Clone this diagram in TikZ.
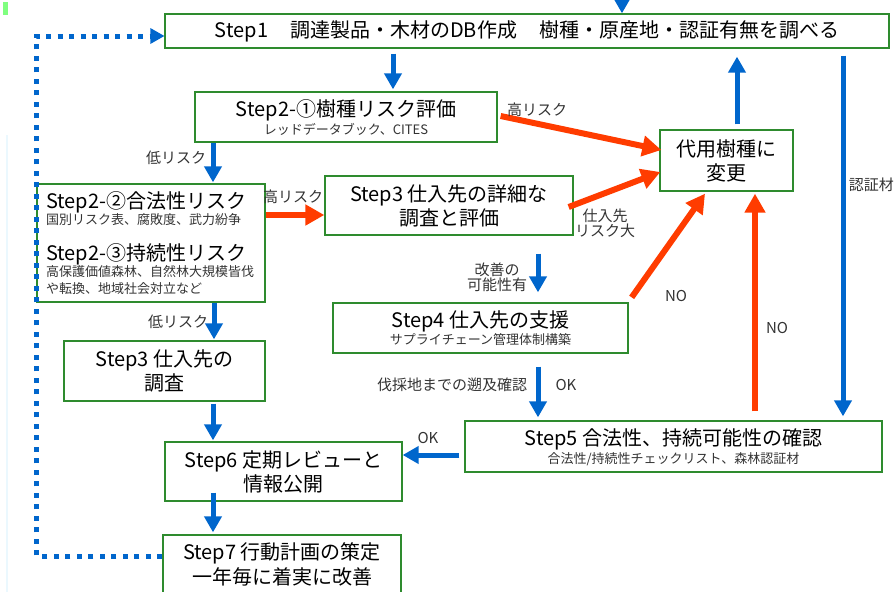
\documentclass[tikz,border=0pt]{standalone}
\usepackage{fontspec}
\setmainfont{Noto Sans CJK JP}
\usetikzlibrary{arrows.meta}
\definecolor{boxgreen}{HTML}{2E8B2E}
\definecolor{flowblue}{HTML}{0066CC}
\definecolor{flowred}{HTML}{FF3C00}
\definecolor{labgray}{HTML}{333333}
\begin{document}
\begin{tikzpicture}[x=1pt,y=-1pt,
  box/.style={draw=boxgreen, line width=1.3pt, fill=white, align=center, inner sep=0pt, text=black,
    font=\fontsize{20}{24}\selectfont},
  bigtext/.style={inner sep=0pt, text=black, font=\fontsize{20}{24}\selectfont},
  smalltext/.style={inner sep=0pt, text=labgray, font=\fontsize{13}{16}\selectfont},
  lab/.style={inner sep=0pt, text=labgray, align=center, font=\fontsize{15}{18}\selectfont},
  bluearr/.style={draw=flowblue, line width=5pt, -{Triangle[width=17pt,length=16pt]}},
  redarr/.style={draw=flowred, line width=6pt, -{Triangle[width=20pt,length=19pt]}},
  dotline/.style={draw=flowblue, line width=5pt, dash pattern=on 5pt off 6.5pt},
]
\useasboundingbox (0,0) rectangle (895,592);
% faint artefacts at the left edge
\fill[green!50!white] (3,2) rectangle (8,15);
\fill[cyan!8!white] (6,135) rectangle (8,592);

% boxes
\node[box, minimum width=724pt, minimum height=34pt] (s1) at (527,31)
  {Step1\hspace{1.1em}調達製品・木材のDB作成\hspace{1.1em}樹種・原産地・認証有無を調べる};
\node[box, minimum width=302pt, minimum height=50pt] (s21) at (346,117) {};
\node[bigtext] (s21a) at (346,110) {Step2-①樹種リスク評価};
\node[smalltext] (s21b) at (346,129) {レッドデータブック、CITES};

\node[box, minimum width=133pt, minimum height=61pt] (alt) at (726.5,160.5) {代用樹種に\\変更};

\node[box, minimum width=228pt, minimum height=118pt] (s22) at (151,243) {};
\node[bigtext, anchor=west] (s22a) at (46,202) {Step2-②合法性リスク};
\node[smalltext, anchor=west] (s22b) at (46,220) {国別リスク表、腐敗度、武力紛争};
\node[bigtext, anchor=west] (s22c) at (46,254) {Step2-③持続性リスク};
\node[smalltext, anchor=west] (s22d) at (46,272) {高保護価値森林、自然林大規模皆伐};
\node[smalltext, anchor=west] (s22e) at (46,289) {や転換、地域社会対立など};

\node[box, minimum width=248pt, minimum height=59pt] (s3d) at (449,205.5) {Step3 仕入先の詳細な\\調査と評価};

\node[box, minimum width=295pt, minimum height=50pt] (s4) at (480.5,328) {};
\node[bigtext] (s4a) at (480.5,321) {Step4 仕入先の支援};
\node[smalltext] (s4b) at (480.5,340) {サプライチェーン管理体制構築};

\node[box, minimum width=201pt, minimum height=60pt] (s3i) at (164.5,371) {Step3 仕入先の\\調査};

\node[box, minimum width=417pt, minimum height=51pt] (s5) at (673.5,446.5) {};
\node[bigtext] (s5a) at (673.5,439) {Step5 合法性、持続可能性の確認};
\node[smalltext] (s5b) at (673.5,459) {合法性/持続性チェックリスト、森林認証材};

\node[box, minimum width=237pt, minimum height=59pt] (s6) at (283.5,471.5) {Step6 定期レビューと\\情報公開};

\node[box, minimum width=238pt, minimum height=72pt] (s7) at (282,571) {};
\node[bigtext] (s7a) at (282,553) {Step7 行動計画の策定};
\node[bigtext] (s7b) at (282,577) {一年毎に着実に改善};

% coordinates for free ends / bends
\coordinate (topin) at (622,-2);
\coordinate (dotA) at (36.5,556);
\coordinate (dotB) at (36.5,36);

% blue connectors
\draw[bluearr] (topin) -- (s1.north -| topin);
\draw[bluearr] ([yshift=-5pt]s1.south -| 393,0) -- ([yshift=2pt]s21.north -| 393,0);
\draw[bluearr] ([yshift=5pt]alt.north -| 737,0) -- ([yshift=-8pt]s1.south -| 737,0);
\draw[bluearr] ([yshift=-7pt]s1.south -| 843,0) -- ([yshift=4pt]s5.north -| 843,0);
\draw[bluearr] (s21.south -| 213,0) -- ([yshift=1pt]s22.north -| 213,0);
\draw[bluearr] (s22.south -| 214,0) -- ([yshift=1pt]s3i.north -| 214,0);
\draw[bluearr] ([yshift=-2pt]s3i.south -| 213,0) -- ([yshift=1pt]s6.north -| 213,0);
\draw[bluearr] ([yshift=9pt]s6.south -| 213,0) -- ([yshift=2pt]s7.north -| 213,0);
\draw[bluearr] ([yshift=-18pt]s3d.south -| 538,0) -- ([yshift=10pt]s4.north -| 538,0);
\draw[bluearr] ([yshift=-13pt]s4.south -| 538,0) -- ([yshift=3pt]s5.north -| 538,0);
\draw[bluearr] ([xshift=-5pt]s5.west |- 0,455) -- (s6.east |- 0,455);

% red connectors
\draw[redarr] ([xshift=3pt]s21.east |- 0,116) -- ([xshift=2pt]alt.west |- 0,150);
\draw[redarr] (s22.east |- 0,215) -- (s3d.west |- 0,215);
\draw[redarr] ([xshift=-5pt]s3d.east |- 0,207) -- ([xshift=1pt]alt.west |- 0,172);
\draw[redarr] ([xshift=3pt,yshift=5pt]s4.north east) -- ([yshift=-2pt]alt.south -| 705,0);
\draw[redarr] ([yshift=9pt]s5.north -| 755,0) -- ([yshift=-2pt]alt.south -| 755,0);

% dotted feedback loop
\draw[dotline] (s7.west |- dotA) -- (dotA) -- (dotB) -- ([xshift=-14pt]s1.west |- dotB);
\fill[flowblue] (s1.west |- dotB) -- ++(-14,-8) -- ++(0,16) -- cycle;

% labels
\node[lab] (l1) at (537,110) {高リスク};
\node[lab] (l2) at (176,158) {低リスク};
\node[lab] (l3) at (293,197) {高リスク};
\node[lab] (l4) at (605,223) {仕入先\\[-3pt]リスク大};
\node[lab, anchor=east] (l5) at (894,185) {認証材};
\node[lab] (l6) at (497,277) {改善の\\[-3pt]可能性有};
\node[lab] (l7) at (676,296) {NO};
\node[lab] (l8) at (777,328) {NO};
\node[lab] (l9) at (178,322) {低リスク};
\node[lab] (l10) at (452,385) {伐採地までの遡及確認};
\node[lab] (l11) at (566,385) {OK};
\node[lab] (l12) at (428,438) {OK};
\end{tikzpicture}
\end{document}
